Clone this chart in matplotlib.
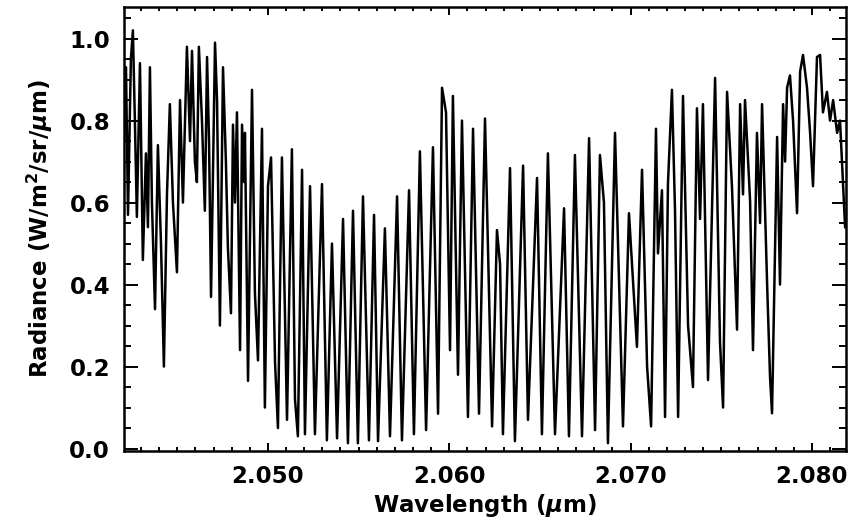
import matplotlib
matplotlib.use("Agg")
import matplotlib.pyplot as plt
from matplotlib.ticker import MultipleLocator

wavelength_um = [
    2.04206, 2.04217, 2.04228, 2.04244, 2.04255, 2.04266, 2.04277, 2.04294, 2.04310, 2.04327,
    2.04338, 2.04349, 2.04360, 2.04377, 2.04393, 2.04410, 2.04426, 2.04443, 2.04459, 2.04476,
    2.04498, 2.04515, 2.04531, 2.04553, 2.04570, 2.04581, 2.04597, 2.04608, 2.04619, 2.04636,
    2.04652, 2.04664, 2.04675, 2.04686, 2.04708, 2.04719, 2.04735, 2.04752, 2.04768, 2.04779,
    2.04796, 2.04807, 2.04818, 2.04829, 2.04846, 2.04857, 2.04868, 2.04873, 2.04890, 2.04912,
    2.04928, 2.04945, 2.04967, 2.04983, 2.05000, 2.05017, 2.05039, 2.05055, 2.05077, 2.05105,
    2.05132, 2.05149, 2.05165, 2.05188, 2.05204, 2.05232, 2.05259, 2.05298, 2.05325, 2.05353,
    2.05381, 2.05414, 2.05441, 2.05469, 2.05496, 2.05524, 2.05557, 2.05585, 2.05607, 2.05645,
    2.05673, 2.05712, 2.05739, 2.05778, 2.05805, 2.05838, 2.05872, 2.05910, 2.05938, 2.05960,
    2.05982, 2.06004, 2.06020, 2.06048, 2.06070, 2.06103, 2.06131, 2.06164, 2.06197, 2.06236,
    2.06263, 2.06280, 2.06296, 2.06335, 2.06362, 2.06407, 2.06434, 2.06484, 2.06511, 2.06544,
    2.06583, 2.06633, 2.06660, 2.06693, 2.06732, 2.06771, 2.06804, 2.06831, 2.06853, 2.06875,
    2.06914, 2.06958, 2.06991, 2.07035, 2.07063, 2.07091, 2.07113, 2.07140, 2.07151, 2.07173,
    2.07190, 2.07206, 2.07228, 2.07245, 2.07262, 2.07289, 2.07317, 2.07344, 2.07366, 2.07383,
    2.07399, 2.07427, 2.07466, 2.07493, 2.07510, 2.07532, 2.07559, 2.07587, 2.07604, 2.07620,
    2.07631, 2.07659, 2.07675, 2.07697, 2.07714, 2.07725, 2.07753, 2.07769, 2.07780, 2.07808,
    2.07824, 2.07841, 2.07852, 2.07863, 2.07879, 2.07896, 2.07918, 2.07935, 2.07951, 2.07973,
    2.07990, 2.08006, 2.08028, 2.08045, 2.08061, 2.08083, 2.08100, 2.08117, 2.08139, 2.08155,
    2.08172, 2.08183,
]

radiance = [
    0.75, 0.93, 0.57, 0.95, 1.02, 0.80, 0.565, 0.94, 0.46, 0.72,
    0.54, 0.93, 0.60, 0.34, 0.74, 0.50, 0.20, 0.62, 0.84, 0.60,
    0.43, 0.85, 0.60, 0.98, 0.75, 0.97, 0.70, 0.65, 0.98, 0.80,
    0.58, 0.955, 0.75, 0.37, 0.99, 0.85, 0.30, 0.93, 0.70, 0.49,
    0.33, 0.79, 0.60, 0.82, 0.24, 0.79, 0.65, 0.77, 0.165, 0.875,
    0.38, 0.215, 0.78, 0.10, 0.64, 0.71, 0.21, 0.05, 0.71, 0.07,
    0.73, 0.12, 0.03, 0.68, 0.035, 0.64, 0.035, 0.645, 0.02, 0.50,
    0.025, 0.56, 0.013, 0.58, 0.013, 0.615, 0.02, 0.57, 0.018, 0.537,
    0.03, 0.615, 0.02, 0.63, 0.035, 0.725, 0.045, 0.735, 0.085, 0.88,
    0.82, 0.24, 0.86, 0.18, 0.80, 0.077, 0.78, 0.085, 0.805, 0.054,
    0.533, 0.45, 0.035, 0.684, 0.018, 0.69, 0.07, 0.66, 0.035, 0.72,
    0.035, 0.586, 0.03, 0.716, 0.03, 0.757, 0.045, 0.716, 0.60, 0.013,
    0.77, 0.054, 0.574, 0.248, 0.68, 0.20, 0.054, 0.78, 0.476, 0.63,
    0.077, 0.645, 0.875, 0.58, 0.077, 0.86, 0.30, 0.15, 0.83, 0.56,
    0.84, 0.167, 0.904, 0.26, 0.10, 0.87, 0.64, 0.29, 0.84, 0.62,
    0.85, 0.605, 0.24, 0.77, 0.55, 0.84, 0.40, 0.175, 0.086, 0.76,
    0.40, 0.84, 0.70, 0.88, 0.91, 0.80, 0.574, 0.92, 0.96, 0.88,
    0.77, 0.64, 0.955, 0.96, 0.82, 0.87, 0.80, 0.85, 0.77, 0.80,
    0.64, 0.54,
]

x_ticks = [2.050, 2.060, 2.070, 2.080]
x_tick_labels = ["2.050", "2.060", "2.070", "2.080"]
y_ticks = [0.0, 0.2, 0.4, 0.6, 0.8, 1.0]
y_tick_labels = ["0.0", "0.2", "0.4", "0.6", "0.8", "1.0"]

plt.rcParams['font.family'] = ['DejaVu Sans']
plt.rcParams['font.weight'] = 'bold'
plt.rcParams['mathtext.fontset'] = 'custom'
plt.rcParams['mathtext.rm'] = 'DejaVu Sans:bold'
plt.rcParams['mathtext.it'] = 'DejaVu Sans:bold:italic'
plt.rcParams['mathtext.bf'] = 'DejaVu Sans:bold'

fig = plt.figure(figsize=(8.6, 5.24), dpi=100)
ax = fig.add_axes([124/860, 73/524, 722/860, 444/524])

ax.plot(wavelength_um, radiance, color='black', lw=1.8)

ax.set_xlim(2.04206, 2.08188)
ax.set_ylim(-0.006, 1.077)

ax.set_xticks(x_ticks)
ax.set_xticklabels(x_tick_labels)
ax.set_yticks(y_ticks)
ax.set_yticklabels(y_tick_labels)
ax.xaxis.set_minor_locator(MultipleLocator(0.001))
ax.yaxis.set_minor_locator(MultipleLocator(0.05))

ax.tick_params(which='both', direction='in', top=True, right=True, width=1.4, colors='black')
ax.tick_params(axis='x', which='major', length=6, labelsize=16.5, pad=10)
ax.tick_params(axis='x', which='minor', length=3)
ax.tick_params(axis='y', which='major', length=10, labelsize=16.5, pad=10)
ax.tick_params(axis='y', which='minor', length=5)
for s in ax.spines.values():
    s.set_linewidth(1.8)

ax.set_xlabel(r"Wavelength ($\mu$m)", fontsize=16.5, fontweight='bold', labelpad=3)
ax.set_ylabel(r"Radiance (W/m$^2$/sr/$\mu$m)", fontsize=16.5, fontweight='bold', labelpad=10)

fig.savefig("out.png", dpi=100)
